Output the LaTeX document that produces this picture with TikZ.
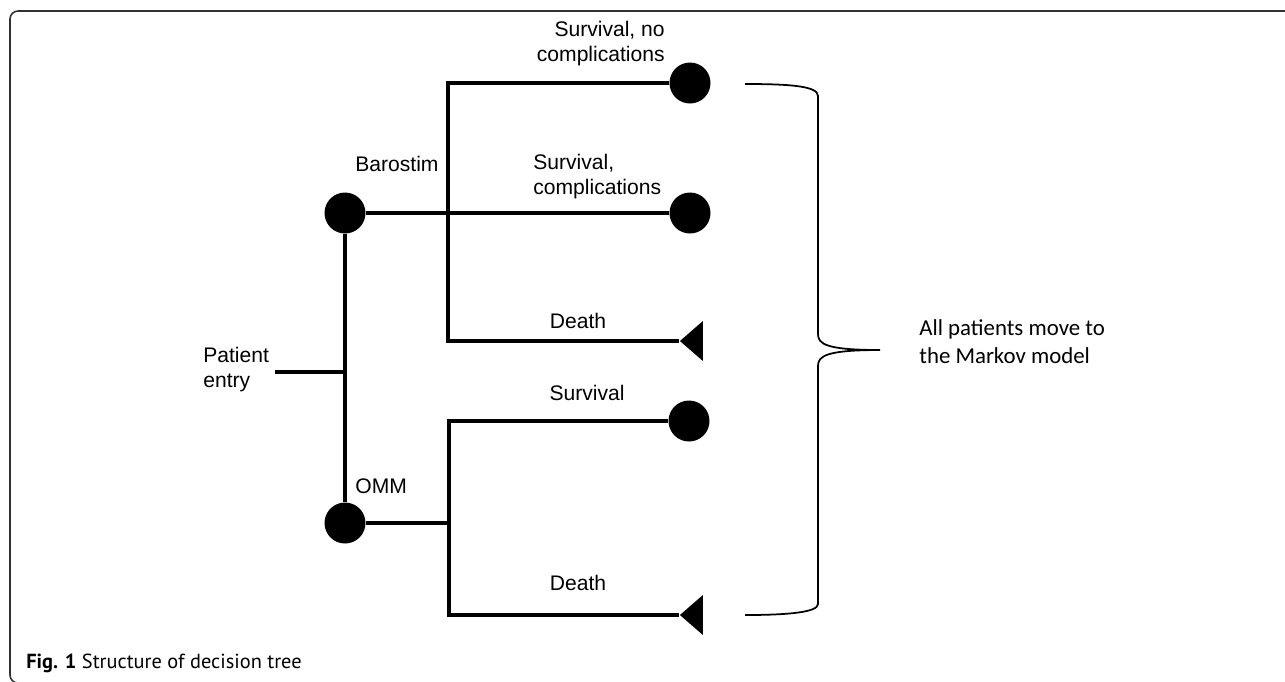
\documentclass[tikz,border=0pt]{standalone}
\usepackage{fontspec}
\setmainfont{Liberation Sans}
\newfontfamily\notefont{Carlito}
\newfontfamily\capfont{PT Sans}
\usepackage{tikz}
\usetikzlibrary{shapes.geometric}
\definecolor{framegray}{RGB}{50,50,50}

\begin{document}
\begin{tikzpicture}[x=0.02cm, y=-0.02cm,
  every node/.style={font=\fontsize{12}{14.2}\selectfont},
  chance/.style={circle, fill=black, minimum size=0.82cm, inner sep=0pt},
  dead/.style={isosceles triangle, isosceles triangle stretches, shape border rotate=180,
    fill=black, minimum width=0.8cm, minimum height=0.46cm, inner sep=0pt},
  lbl/.style={inner sep=0pt},
  branch/.style={line width=1.9pt}]
  \useasboundingbox (0,0) rectangle (1285,681);
  % frame
  \draw[framegray, line width=0.9pt, rounded corners=0.16cm] (1300,11) -- (10,11) -- (10,683) -- (40,683);

  % decision and chance nodes
  \node[chance] (baro) at (345,213) {};
  \node[chance] (omm) at (345,523) {};
  \node[chance] (snc) at (690,83) {};
  \node[chance] (scomp) at (690,213) {};
  \node[dead, anchor=apex] (bdeath) at (679,341) {};
  \node[chance] (osurv) at (689,421) {};
  \node[dead, anchor=apex] (odeath) at (679,615) {};

  \coordinate (entry) at (275,372);
  \coordinate (ej) at (345,372);
  \coordinate (bt) at (448,83);
  \coordinate (bb) at (448,341);
  \coordinate (oj) at (449,523);
  \coordinate (ot) at (449,421);
  \coordinate (ob) at (449,615);

  \draw[branch] (entry) -- (ej);
  \draw[branch] (baro) -- (omm);
  \draw[branch] (baro) -- (scomp);
  \draw[branch] (snc) -- (bt) -- (bb) -- (bdeath.apex);
  \draw[branch] (omm) -- (oj);
  \draw[branch] (osurv) -- (ot) -- (ob) -- (odeath.apex);

  % labels
  \node[lbl, anchor=east, align=right] (lsnc) at (665,44) {Survival, no\\complications};
  \node[lbl, anchor=west, align=left] (lscomp) at (533,177) {Survival,\\complications};
  \node[lbl, anchor=west] (lbaro) at (355,164) {Barostim};
  \node[lbl, anchor=west] (lomm) at (355,486) {OMM};
  \node[lbl] (lbd) at (578,321) {Death};
  \node[lbl] (los) at (587,393) {Survival};
  \node[lbl] (lod) at (578,583) {Death};
  \node[lbl, anchor=west, align=left] (lentry) at (203,370) {Patient\\entry};

  % brace
  \draw[line width=1pt] (745,84) .. controls (790,84) and (818,86) .. (818,96) -- (818,334)
    .. controls (818,344) and (826,350) .. (880,350)
    .. controls (826,350) and (818,356) .. (818,366) -- (818,604)
    .. controls (818,612) and (790,615) .. (745,615);
  \node[lbl, anchor=west, align=left, font=\notefont\fontsize{13}{16}\selectfont] (lmarkov) at (919,342)
    {All patients move to\\the Markov model};

  \node[lbl, anchor=base west, font=\capfont\fontsize{11.6}{14}\selectfont] (cap) at (26,668)
    {\textbf{Fig. 1} Structure of decision tree};
\end{tikzpicture}
\end{document}
